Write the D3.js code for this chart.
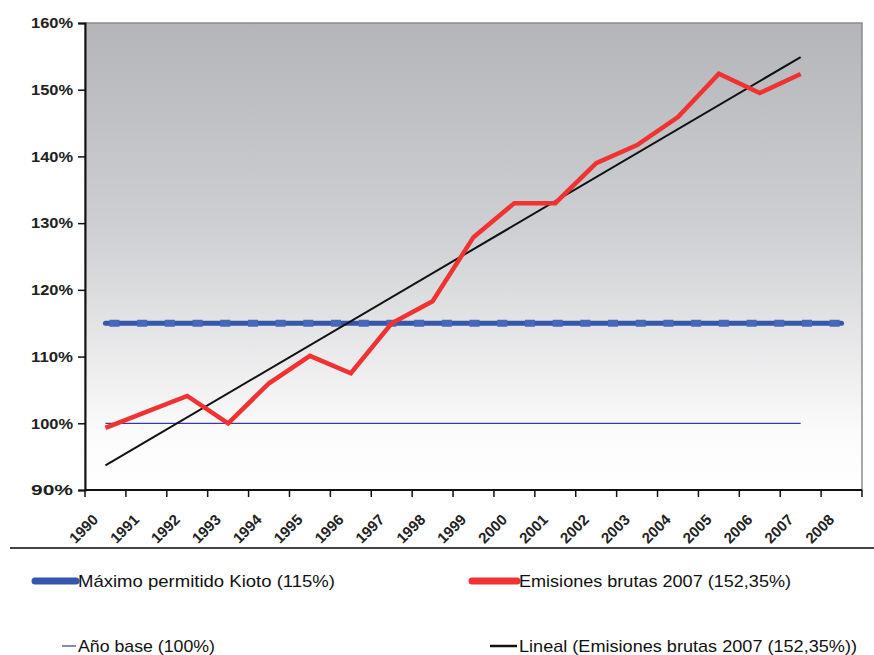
<!DOCTYPE html>
<html>
<head>
<meta charset="utf-8">
<script src="https://cdn.jsdelivr.net/npm/d3@7"></script>
<style>
body { margin: 0; background: #fff; }
svg { display: block; }
.ytick text, .xtick text { font-family: "Liberation Sans", Arial, sans-serif; font-weight: bold; fill: #222; }
.legend text { font-family: "Liberation Sans", Arial, sans-serif; font-size: 17px; fill: #111; }
</style>
</head>
<body>
<div id="chart"></div>
<script>
var years = ["1990","1991","1992","1993","1994","1995","1996","1997","1998","1999",
             "2000","2001","2002","2003","2004","2005","2006","2007","2008"];
// emisiones brutas (1990-2007)
var emisiones = [99.3, 101.7, 104.1, 100.0, 106.0, 110.1, 107.5, 115.0, 118.3, 127.9,
                 133.0, 133.0, 139.0, 141.7, 145.9, 152.4, 149.5, 152.35];
var kioto = [115,115,115,115,115,115,115,115,115,115,115,115,115,115,115,115,115,115,115];
var base = [100,100,100,100,100,100,100,100,100,100,100,100,100,100,100,100,100,100];
var tendencia = [{year: "1990", v: 93.7}, {year: "2007", v: 154.9}];
var yTicks = [90, 100, 110, 120, 130, 140, 150, 160];

var width = 874, height = 655;
var mLeft = 85, mRight = 862, mTop = 23, mBottom = 490;

var svg = d3.select("#chart").append("svg").attr("width", width).attr("height", height);

var x = d3.scaleBand().domain(years).range([mLeft, mRight]);
var y = d3.scaleLinear().domain([90, 160]).range([mBottom, mTop]);
var cx = function(d) { return x(d) + x.bandwidth() / 2; };

// fondo degradado
var defs = svg.append("defs");
var grad = defs.append("linearGradient").attr("id", "bg").attr("x1", 0).attr("y1", 0).attr("x2", 0).attr("y2", 1);
grad.append("stop").attr("offset", "0%").attr("stop-color", "#b3b5b9");
grad.append("stop").attr("offset", "45%").attr("stop-color", "#cfd0d3");
grad.append("stop").attr("offset", "88%").attr("stop-color", "#fbfbfb");
grad.append("stop").attr("offset", "100%").attr("stop-color", "#ffffff");

svg.append("rect").attr("x", mLeft).attr("y", mTop).attr("width", mRight - mLeft).attr("height", mBottom - mTop)
  .attr("fill", "url(#bg)").attr("stroke", "#8c8c8c").attr("stroke-width", 1.5);

// ejes
var yAxis = svg.append("g").attr("class", "ytick").attr("transform", "translate(" + mLeft + ",0)")
  .call(d3.axisLeft(y).tickValues(yTicks).tickSize(7).tickPadding(5).tickFormat(function(d) { return d + "%"; }));
yAxis.select(".domain").attr("stroke", "#111").attr("stroke-width", 2);
yAxis.selectAll("line").attr("stroke", "#111").attr("stroke-width", 1.5);
yAxis.selectAll("text").attr("font-size", 15).attr("textLength", 42).attr("lengthAdjust", "spacingAndGlyphs");

var xAxis = svg.append("g").attr("class", "xtick").attr("transform", "translate(0," + mBottom + ")");
xAxis.append("line").attr("x1", mLeft).attr("x2", mRight).attr("stroke", "#111").attr("stroke-width", 2);
xAxis.selectAll("line.t").data(years.concat(["end"])).enter().append("line").attr("class", "t")
  .attr("x1", function(d, i) { return mLeft + i * x.bandwidth(); })
  .attr("x2", function(d, i) { return mLeft + i * x.bandwidth(); })
  .attr("y1", 0).attr("y2", 7).attr("stroke", "#111").attr("stroke-width", 1.5);
xAxis.selectAll("text").data(years).enter().append("text")
  .attr("transform", function(d) { return "translate(" + (cx(d) - 10) + ",27) rotate(-45)"; })
  .attr("text-anchor", "end").attr("dy", "0.35em").attr("font-size", 15).text(function(d) { return d; });

var line = d3.line().x(function(d, i) { return cx(years[i]); }).y(function(d) { return y(d); });

// año base
svg.append("path").datum(base).attr("d", line).attr("fill", "none").attr("stroke", "#3a3a9a").attr("stroke-width", 1.2);

// maximo Kioto
svg.append("path").datum(kioto).attr("d", line).attr("fill", "none").attr("stroke", "#3556aa").attr("stroke-width", 5)
  .attr("stroke-linecap", "round");
svg.append("path").datum(kioto).attr("d", line).attr("fill", "none").attr("stroke", "#4767b8").attr("stroke-width", 7)
  .attr("stroke-dasharray", "10 17.7").attr("stroke-dashoffset", -4);

// tendencia lineal
svg.append("line")
  .attr("x1", cx(tendencia[0].year)).attr("y1", y(tendencia[0].v))
  .attr("x2", cx(tendencia[1].year)).attr("y2", y(tendencia[1].v))
  .attr("stroke", "#111").attr("stroke-width", 2);

// emisiones
svg.append("path").datum(emisiones).attr("d", line).attr("fill", "none").attr("stroke", "#f03232")
  .attr("stroke-width", 4.5).attr("stroke-linejoin", "miter");

// separador
svg.append("line").attr("x1", 10).attr("x2", 874).attr("y1", 548).attr("y2", 548).attr("stroke", "#444").attr("stroke-width", 2);

// leyenda
var legend = [
  {label: "Máximo permitido Kioto (115%)", color: "#3556aa", w: 7, x0: 35, x1: 76, y: 581, tw: 257},
  {label: "Emisiones brutas 2007 (152,35%)", color: "#f03232", w: 7, x0: 472, x1: 517, y: 581, tw: 272},
  {label: "Año base (100%)", color: "#3a3a9a", w: 1.2, x0: 62, x1: 76, y: 646, tw: 137},
  {label: "Lineal (Emisiones brutas 2007 (152,35%))", color: "#111", w: 2.5, x0: 490, x1: 517, y: 646, tw: 338}
];
var lg = svg.selectAll("g.legend").data(legend).enter().append("g").attr("class", "legend")
  .attr("transform", function(d) { return "translate(0," + d.y + ")"; });
lg.append("line").attr("x1", function(d) { return d.x0; }).attr("x2", function(d) { return d.x1; })
  .attr("stroke", function(d) { return d.color; })
  .attr("stroke-width", function(d) { return d.w; }).attr("stroke-linecap", function(d) { return d.w > 3 ? "round" : "butt"; });
lg.append("text").attr("x", function(d) { return d.x1 + 2; }).attr("dy", "0.35em")
  .attr("textLength", function(d) { return d.tw; }).attr("lengthAdjust", "spacingAndGlyphs")
  .text(function(d) { return d.label; });
</script>
</body>
</html>
